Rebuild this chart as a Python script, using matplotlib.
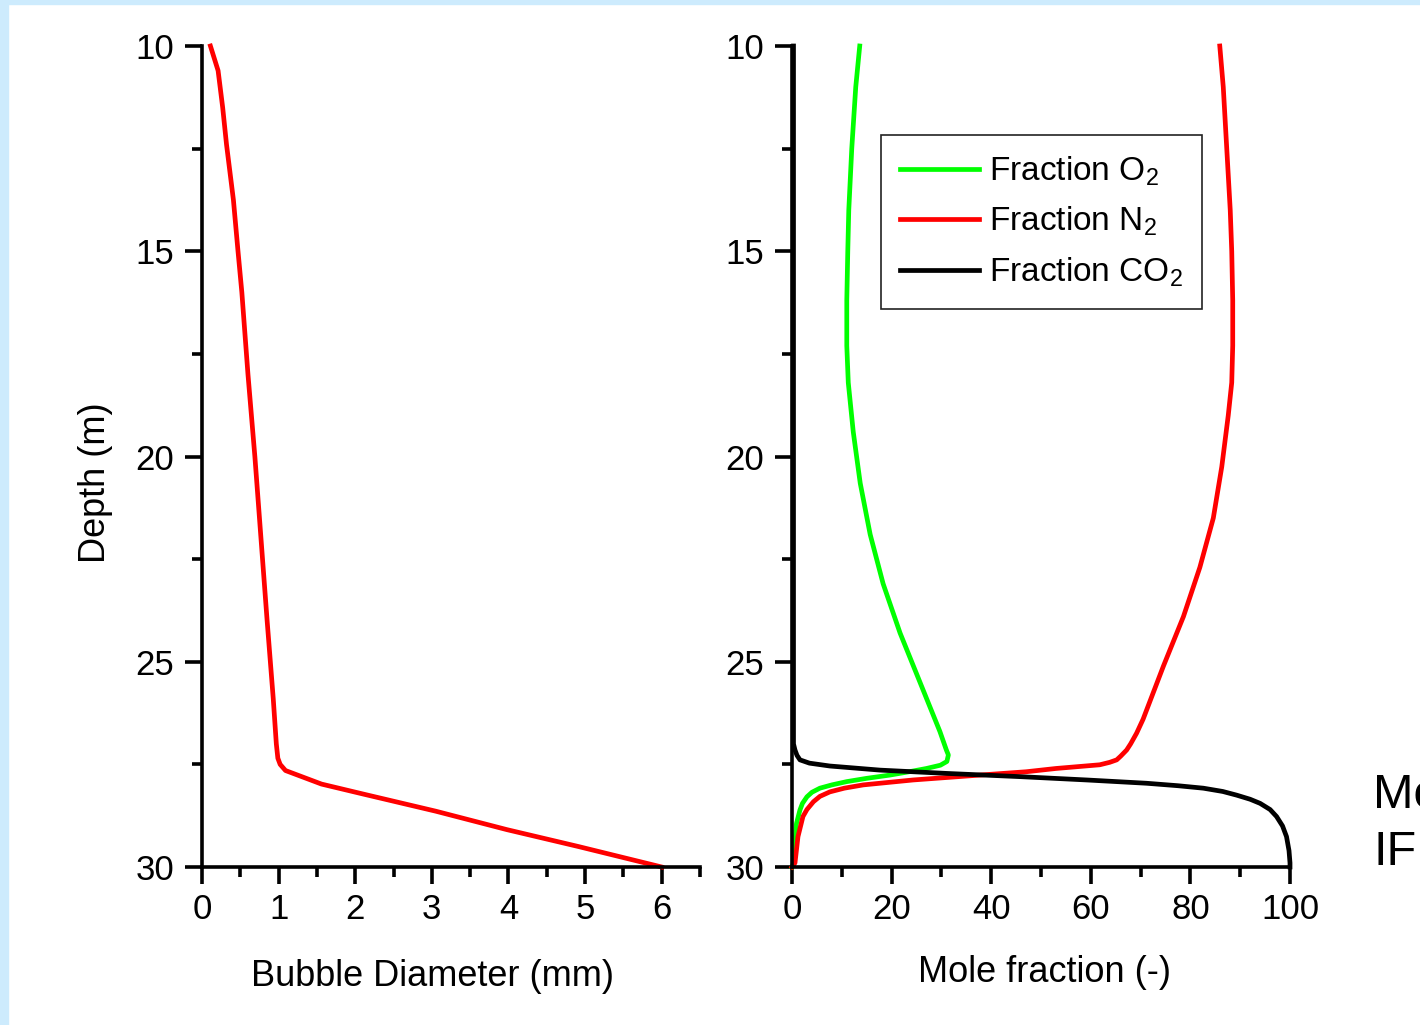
import matplotlib
matplotlib.use('Agg')
import matplotlib.pyplot as plt
from matplotlib.patches import Rectangle
from matplotlib.ticker import MultipleLocator

plt.rcParams['font.family'] = ['Liberation Sans', 'DejaVu Sans']
plt.rcParams['mathtext.fontset'] = 'custom'
plt.rcParams['mathtext.rm'] = 'Liberation Sans'
plt.rcParams['mathtext.it'] = 'Liberation Sans:italic'

# bubble diameter profile (left panel)
depth_d = [10.0, 10.6, 11.5, 12.4, 13.75, 15.0, 16.0, 18.0, 20.0, 22.0, 24.0,
           25.9, 27.0, 27.35, 27.5, 27.65, 27.98, 28.23, 28.64, 29.09, 29.50, 30.0]
diam = [0.11, 0.21, 0.27, 0.32, 0.41, 0.47, 0.52, 0.60, 0.69, 0.77, 0.85,
        0.93, 0.97, 0.99, 1.02, 1.09, 1.56, 2.12, 3.05, 3.98, 4.91, 6.0]

# mole fractions (right panel)
depth_o2 = [10.0, 11.0, 12.5, 14.0, 15.0, 16.2, 17.3, 18.2, 19.4, 20.65, 21.9, 23.1,
            24.3, 25.5, 26.7, 27.15, 27.27, 27.43, 27.52, 27.60, 27.68, 27.76, 27.84,
            27.92, 28.0, 28.08, 28.18, 28.29, 28.45, 28.61, 28.94, 29.34, 29.9, 30.0]
frac_o2 = [13.6, 12.8, 12.0, 11.4, 11.2, 11.0, 11.0, 11.3, 12.3, 13.7, 15.7, 18.3,
           21.7, 25.7, 29.7, 31.0, 31.4, 31.1, 29.8, 27.0, 23.5, 19.7, 15.0,
           11.0, 8.0, 5.6, 4.0, 3.0, 2.1, 1.6, 0.9, 0.6, 0.3, 0.0]

depth_n2 = [10.0, 11.0, 12.5, 14.0, 15.0, 16.2, 17.3, 18.2, 19.0, 20.25, 21.5, 22.7,
            23.9, 25.1, 26.4, 26.74, 27.0, 27.15, 27.3, 27.39, 27.45, 27.51, 27.60,
            27.68, 27.76, 27.88, 28.0, 28.08, 28.17, 28.28, 28.41, 28.6, 28.77, 29.26,
            29.9, 30.0]
frac_n2 = [85.9, 86.6, 87.3, 88.0, 88.3, 88.5, 88.5, 88.3, 87.6, 86.3, 84.6, 81.9,
           78.6, 74.6, 70.5, 69.2, 68.0, 67.2, 66.0, 65.2, 63.8, 61.8, 53.0,
           47.0, 37.8, 24.3, 14.3, 10.5, 7.6, 5.6, 4.3, 3.0, 2.2, 1.2,
           0.6, 0.0]

depth_co2 = [10.0, 27.0, 27.15, 27.28, 27.39, 27.47, 27.54, 27.64, 27.72, 27.80,
             27.88, 27.96, 28.02, 28.08, 28.16, 28.25, 28.35, 28.45, 28.6, 28.77,
             29.0, 29.26, 29.6, 29.9, 30.0]
frac_co2 = [0.3, 0.3, 0.6, 1.0, 1.6, 3.5, 7.6, 17.7, 31.0, 46.0,
            59.2, 71.2, 77.5, 82.6, 86.5, 89.3, 92.0, 94.0, 96.0, 97.3,
            98.5, 99.3, 99.8, 100.0, 100.0]

W, H = 1420, 1025
fig = plt.figure(figsize=(W / 100, H / 100), dpi=100)

# light blue frame on left and top
fig.patches.append(Rectangle((0, 0), 8 / W, 1, transform=fig.transFigure,
                             color='#cdebfd', zorder=0))
fig.patches.append(Rectangle((0, 1 - 4 / H), 1, 4 / H, transform=fig.transFigure,
                             color='#cdebfd', zorder=0))

ax1 = fig.add_axes([202 / W, 1 - 867 / H, 498 / W, 821 / H])
ax2 = fig.add_axes([792 / W, 1 - 867 / H, 498 / W, 821 / H])


def style_axis(ax):
    for s in ['top', 'right']:
        ax.spines[s].set_visible(False)
    for s in ['left', 'bottom']:
        ax.spines[s].set_linewidth(2.6)
    ax.tick_params(which='major', direction='out', length=12, width=2.6,
                   labelsize=25, pad=7)
    ax.tick_params(which='minor', direction='out', length=7, width=2.6)
    ax.tick_params(axis='y', which='major', pad=8)
    ax.set_ylim(30, 10)
    ax.yaxis.set_major_locator(MultipleLocator(5))
    ax.yaxis.set_minor_locator(MultipleLocator(2.5))


style_axis(ax1)
ax1.plot(diam, depth_d, color='#ff0000', lw=3.4, clip_on=False)
ax1.set_xlim(0, 6.5)
ax1.xaxis.set_major_locator(MultipleLocator(1))
ax1.xaxis.set_minor_locator(MultipleLocator(0.5))
ax1.set_xticks([0, 1, 2, 3, 4, 5, 6])
ax1.set_xlabel('Bubble Diameter (mm)', fontsize=26, va='center')
ax1.xaxis.set_label_coords(0.462, -0.133)
ax1.set_ylabel('Depth (m)', fontsize=26)
ax1.yaxis.set_label_coords(-0.179, 0.468)

style_axis(ax2)
ax2.plot(frac_o2, depth_o2, color='#00ff00', lw=3.4, clip_on=False, label='Fraction O$_2$')
ax2.plot(frac_n2, depth_n2, color='#ff0000', lw=3.4, clip_on=False, label='Fraction N$_2$')
ax2.plot(frac_co2, depth_co2, color='black', lw=3.4, clip_on=False, label='Fraction CO$_2$')
ax2.set_xlim(0, 100)
ax2.xaxis.set_major_locator(MultipleLocator(20))
ax2.xaxis.set_minor_locator(MultipleLocator(10))
ax2.set_xlabel('Mole fraction (-)', fontsize=26, va='center')
ax2.xaxis.set_label_coords(0.508, -0.128)

leg = ax2.legend(loc='upper left', bbox_to_anchor=(881 / W, 1 - 135 / H),
                 bbox_transform=fig.transFigure, borderaxespad=0,
                 fontsize=24, frameon=True, fancybox=False, framealpha=1,
                 handlelength=2.35, handletextpad=0.3, borderpad=0.58,
                 labelspacing=0.52)
leg.get_frame().set_edgecolor('#222222')
leg.get_frame().set_linewidth(1.2)

fig.text(1373 / W, 1 - 808 / H, 'Mo', fontsize=35, ha='left', va='baseline')
fig.text(1373 / W, 1 - 865 / H, 'IFI', fontsize=35, ha='left', va='baseline')

fig.savefig('out.png', dpi=100)
